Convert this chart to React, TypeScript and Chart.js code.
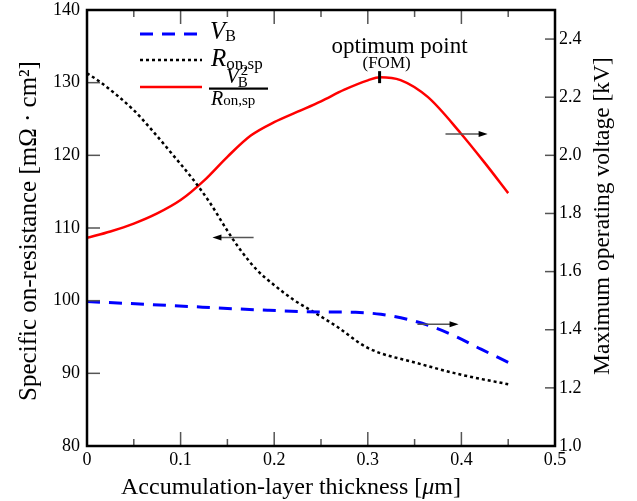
import React, { useEffect, useRef } from "react";
import { Chart, registerables } from "chart.js";

Chart.register(...registerables);

const SERIF = '"Liberation Serif", "Times New Roman", "DejaVu Serif", serif';

// R_on,sp (left axis, mΩ·cm²)
const ronX = [0, 0.014, 0.05, 0.0692, 0.0889, 0.1138, 0.1317, 0.1496, 0.1638, 0.1817, 0.1995, 0.2209, 0.2388, 0.2673, 0.3, 0.353, 0.4, 0.45];
const ronY = [131.3, 130.1, 126.2, 123.5, 120.5, 116.6, 113.4, 109.7, 107.0, 104.2, 102.2, 100.1, 98.7, 96.4, 93.5, 91.4, 89.8, 88.5];

// V_B (right axis, kV)
const vbX = [0, 0.085, 0.193, 0.254, 0.287, 0.314, 0.342, 0.371, 0.396, 0.421, 0.45];
const vbY = [1.497, 1.484, 1.467, 1.461, 1.46, 1.453, 1.436, 1.408, 1.374, 1.333, 1.288];

// FOM V_B^2 / R_on,sp (normalised, right axis)
const fomX = [0, 0.025, 0.05, 0.075, 0.1, 0.125, 0.15, 0.175, 0.2, 0.225, 0.25, 0.275, 0.3, 0.313, 0.335, 0.364, 0.399, 0.425, 0.45];
const fomY = [1.716, 1.738, 1.765, 1.8, 1.846, 1.913, 1.995, 2.068, 2.114, 2.15, 2.186, 2.226, 2.258, 2.269, 2.259, 2.201, 2.077, 1.974, 1.87];

const xTicks = [0, 0.1, 0.2, 0.3, 0.4, 0.5];
const xMinorTicks = [0.05, 0.15, 0.25, 0.35, 0.45];
const leftTicks = [80, 90, 100, 110, 120, 130, 140];
const rightTicks = [1.0, 1.2, 1.4, 1.6, 1.8, 2.0, 2.2, 2.4];

const arrows = [
  { axis: "yL", y: 108.7, x0: 0.178, x1: 0.134 },
  { axis: "yR", y: 2.073, x0: 0.383, x1: 0.428 },
  { axis: "yR", y: 1.419, x0: 0.353, x1: 0.397 },
];

const optimum = { x: 0.3126, y: 2.269 };

const xTitle = ["Accumulation-layer thickness [", "μ", "m]"];
const leftTitle = "Specific on-resistance [mΩ · cm²]";
const rightTitle = "Maximum operating voltage [kV]";

const pts = (xs: number[], ys: number[]) => xs.map((x, i) => ({ x, y: ys[i] }));

function drawSub(ctx: CanvasRenderingContext2D, x: number, y: number, main: string, sub: string, mainSize: number, subSize: number, subDy: number) {
  ctx.font = `italic ${mainSize}px ${SERIF}`;
  ctx.fillText(main, x, y);
  const w = ctx.measureText(main).width;
  ctx.font = `${subSize}px ${SERIF}`;
  ctx.fillText(sub, x + w, y + subDy);
}

const decor = {
  id: "decor",
  afterDatasetsDraw(chart: any) {
    const ctx: CanvasRenderingContext2D = chart.ctx;
    const { left, right, top, bottom } = chart.chartArea;
    const xs = chart.scales.x;
    const yl = chart.scales.yL;
    const yr = chart.scales.yR;
    const line = (a: number, b: number, c: number, d: number) => {
      ctx.beginPath();
      ctx.moveTo(a, b);
      ctx.lineTo(c, d);
      ctx.stroke();
    };
    ctx.save();
    // inner ticks
    ctx.strokeStyle = "#555";
    ctx.lineWidth = 1.5;
    for (const v of xTicks) {
      const p = xs.getPixelForValue(v);
      line(p, bottom, p, bottom - 14);
      line(p, top, p, top + 14);
    }
    for (const v of xMinorTicks) {
      const p = xs.getPixelForValue(v);
      line(p, bottom, p, bottom - 7);
      line(p, top, p, top + 7);
    }
    for (const v of leftTicks) {
      const p = yl.getPixelForValue(v);
      line(left, p, left + 13, p);
    }
    for (const v of rightTicks) {
      const p = yr.getPixelForValue(v);
      line(right, p, right - 10, p);
    }
    // frame
    ctx.strokeStyle = "#000";
    ctx.lineWidth = 2.5;
    ctx.strokeRect(left, top, right - left, bottom - top);

    // arrows
    for (const a of arrows) {
      const sc = a.axis === "yL" ? yl : yr;
      const py = sc.getPixelForValue(a.y);
      const p0 = xs.getPixelForValue(a.x0);
      const p1 = xs.getPixelForValue(a.x1);
      const dir = p1 > p0 ? 1 : -1;
      ctx.strokeStyle = "#555";
      ctx.lineWidth = 1.5;
      line(p0, py, p1 - dir * 6, py);
      ctx.fillStyle = "#000";
      ctx.beginPath();
      ctx.moveTo(p1, py);
      ctx.lineTo(p1 - dir * 9, py - 3);
      ctx.lineTo(p1 - dir * 9, py + 3);
      ctx.closePath();
      ctx.fill();
    }

    // optimum marker and label
    const ox = xs.getPixelForValue(optimum.x);
    const oy = yr.getPixelForValue(optimum.y);
    ctx.strokeStyle = "#000";
    ctx.lineWidth = 3;
    line(ox, oy - 6, ox, oy + 6);
    ctx.fillStyle = "#000";
    ctx.textAlign = "center";
    ctx.textBaseline = "alphabetic";
    ctx.font = `23px ${SERIF}`;
    ctx.fillText("optimum point", ox + 20, oy - 24);
    ctx.font = `17px ${SERIF}`;
    ctx.fillText("(FOM)", ox + 7, oy - 9);

    // legend
    ctx.textAlign = "left";
    const lx0 = left + 53;
    const lx1 = left + 115;
    ctx.lineWidth = 3;
    ctx.strokeStyle = "#0000ff";
    ctx.setLineDash([13, 9]);
    line(lx0, top + 24, lx1, top + 24);
    ctx.strokeStyle = "#000";
    ctx.lineWidth = 2.5;
    ctx.setLineDash([3, 3]);
    line(lx0, top + 50, lx1, top + 50);
    ctx.setLineDash([]);
    ctx.strokeStyle = "#ff0000";
    ctx.lineWidth = 2.5;
    line(lx0, top + 77, lx1, top + 77);

    ctx.fillStyle = "#000";
    const tx = left + 123;
    drawSub(ctx, tx, top + 29, "V", "B", 25, 16, 2);
    drawSub(ctx, tx + 1, top + 56, "R", "on,sp", 25, 17, 3);
    // fraction
    ctx.font = `italic 21px ${SERIF}`;
    ctx.fillText("V", tx + 16, top + 73);
    const vw = ctx.measureText("V").width;
    ctx.font = `15px ${SERIF}`;
    ctx.fillText("2", tx + 16 + vw + 2, top + 65);
    ctx.fillText("B", tx + 16 + vw - 1, top + 77);
    ctx.fillRect(tx - 1, top + 77.5, 59, 2.2);
    drawSub(ctx, tx + 1, top + 95, "R", "on,sp", 20, 15, 0);

    // axis titles
    ctx.fillStyle = "#000";
    const xf = 24;
    ctx.font = `${xf}px ${SERIF}`;
    const w0 = ctx.measureText(xTitle[0]).width;
    const w2 = ctx.measureText(xTitle[2]).width;
    ctx.font = `italic ${xf}px ${SERIF}`;
    const w1 = ctx.measureText(xTitle[1]).width;
    const cx = (left + right) / 2 - 30;
    let sx = cx - (w0 + w1 + w2) / 2;
    ctx.font = `${xf}px ${SERIF}`;
    ctx.fillText(xTitle[0], sx, 494);
    sx += w0;
    ctx.font = `italic ${xf}px ${SERIF}`;
    ctx.fillText(xTitle[1], sx, 494);
    sx += w1;
    ctx.font = `${xf}px ${SERIF}`;
    ctx.fillText(xTitle[2], sx, 494);

    ctx.textAlign = "center";
    ctx.font = `25px ${SERIF}`;
    ctx.save();
    ctx.translate(36, (top + bottom) / 2 + 3);
    ctx.rotate(-Math.PI / 2);
    ctx.fillText(leftTitle, 0, 0);
    ctx.restore();
    ctx.font = `23.5px ${SERIF}`;
    ctx.save();
    ctx.translate(609, (top + bottom) / 2 - 12);
    ctx.rotate(-Math.PI / 2);
    ctx.fillText(rightTitle, 0, 0);
    ctx.restore();

    ctx.restore();
  },
};

export default function App() {
  const ref = useRef<HTMLCanvasElement | null>(null);
  useEffect(() => {
    if (!ref.current) return;
    const tickFont = { family: SERIF, size: 18 };
    const noVPad = (s: any) => {
      s.paddingTop = 0;
      s.paddingBottom = 0;
    };
    const chart = new Chart(ref.current, {
      type: "line",
      data: {
        datasets: [
          {
            label: "V_B",
            data: pts(vbX, vbY),
            yAxisID: "yR",
            borderColor: "#0000ff",
            borderWidth: 3,
            borderDash: [13, 9],
            pointRadius: 0,
            fill: false,
            cubicInterpolationMode: "monotone",
          },
          {
            label: "R_on,sp",
            data: pts(ronX, ronY),
            yAxisID: "yL",
            borderColor: "#000000",
            borderWidth: 2.5,
            borderDash: [3, 3],
            pointRadius: 0,
            fill: false,
            cubicInterpolationMode: "monotone",
          },
          {
            label: "V_B^2/R_on,sp",
            data: pts(fomX, fomY),
            yAxisID: "yR",
            borderColor: "#ff0000",
            borderWidth: 2.5,
            pointRadius: 0,
            fill: false,
            cubicInterpolationMode: "monotone",
          },
        ],
      },
      options: {
        responsive: false,
        animation: false,
        events: [],
        layout: { padding: { top: 10, left: 0, right: 0, bottom: 0 } },
        plugins: { legend: { display: false }, tooltip: { enabled: false } },
        scales: {
          x: {
            type: "linear",
            min: 0,
            max: 0.5,
            afterBuildTicks: (s: any) => {
              s.ticks = xTicks.map((v) => ({ value: v }));
            },
            afterFit: (s: any) => {
              s.height = 55;
              s.paddingLeft = 0;
              s.paddingRight = 0;
            },
            grid: { display: false, drawTicks: false },
            border: { display: false },
            ticks: {
              font: tickFont,
              color: "#000",
              padding: 3,
              maxRotation: 0,
              autoSkip: false,
              callback: (v: any) => (Number(v) === 0 ? "0" : Number(v).toFixed(1)),
            },
          },
          yL: {
            type: "linear",
            position: "left",
            min: 80,
            max: 140,
            afterBuildTicks: (s: any) => {
              s.ticks = leftTicks.map((v) => ({ value: v }));
            },
            afterFit: (s: any) => {
              s.width = 87;
              noVPad(s);
            },
            grid: { display: false, drawTicks: false },
            border: { display: false },
            ticks: { font: tickFont, color: "#000", padding: 7, autoSkip: false, callback: (v: any) => String(v) },
          },
          yR: {
            type: "linear",
            position: "right",
            min: 1.0,
            max: 2.5,
            afterBuildTicks: (s: any) => {
              s.ticks = rightTicks.map((v) => ({ value: v }));
            },
            afterFit: (s: any) => {
              s.width = 82;
              noVPad(s);
            },
            grid: { display: false, drawTicks: false },
            border: { display: false },
            ticks: { font: tickFont, color: "#000", padding: 4, autoSkip: false, callback: (v: any) => Number(v).toFixed(1) },
          },
        },
      },
      plugins: [decor],
    });
    return () => chart.destroy();
  }, []);
  return (
    <div style={{ position: "fixed", left: 0, top: 0, width: 637, height: 501, background: "#fff" }}>
      <canvas ref={ref} width={637} height={501} style={{ display: "block" }} />
    </div>
  );
}
